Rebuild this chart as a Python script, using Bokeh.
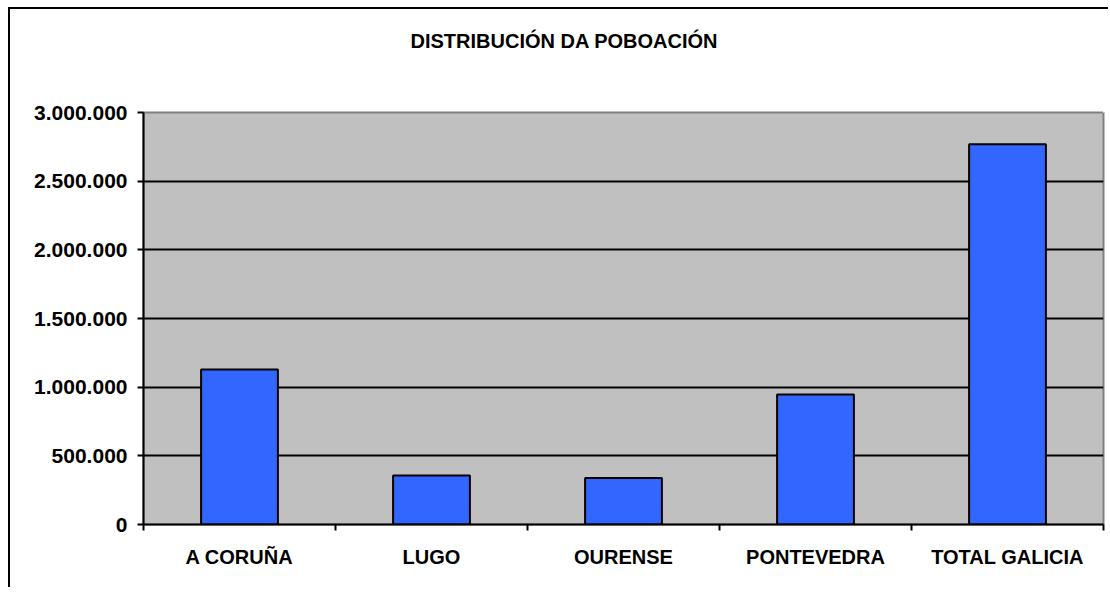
from bokeh.plotting import figure
from bokeh.models import Range1d, FixedTicker, Title, LinearAxis
from bokeh.embed import file_html
from bokeh.resources import INLINE

title_text = "DISTRIBUCIÓN DA POBOACIÓN"
categories = ["A CORUÑA", "LUGO", "OURENSE", "PONTEVEDRA", "TOTAL GALICIA"]
population = [1129000, 357000, 339000, 947000, 2768000]
y_ticks = [0, 500000, 1000000, 1500000, 2000000, 2500000, 3000000]
y_tick_labels = ["0", "500.000", "1.000.000", "1.500.000", "2.000.000", "2.500.000", "3.000.000"]

n = len(categories)
centers = [i + 0.5 for i in range(n)]
bounds = [float(i) for i in range(n + 1)]

FONT = "Liberation Sans"

p = figure(width=1100, height=580,
           x_range=Range1d(0, n), y_range=Range1d(y_ticks[0], y_ticks[-1]),
           output_backend="svg", toolbar_location=None,
           min_border_left=133, min_border_right=7,
           min_border_top=103, min_border_bottom=65,
           background_fill_color="#C0C0C0", border_fill_color="white")
p.styles = {"border-left": "2px solid black", "border-top": "2px solid black",
            "margin-left": "8px", "margin-top": "7px"}

p.outline_line_color = "#808080"
p.outline_line_width = 2

p.vbar(x=centers, top=population, width=0.4, bottom=0,
       fill_color="#3366FF", line_color="black", line_width=2)

# grid
p.xgrid.visible = False
p.ygrid.ticker = FixedTicker(ticks=y_ticks[1:-1])
p.ygrid.grid_line_color = "black"
p.ygrid.grid_line_width = 2

# y axis
ya = p.yaxis[0]
ya.ticker = FixedTicker(ticks=y_ticks)
ya.major_label_overrides = dict(zip(y_ticks, y_tick_labels))
ya.axis_line_color = "black"
ya.axis_line_width = 2
ya.major_tick_line_width = 2
ya.major_tick_out = 6
ya.major_tick_in = 0
ya.minor_tick_line_color = None
ya.major_label_standoff = 10
ya.major_label_text_font = FONT
ya.major_label_text_font_style = "bold"
ya.major_label_text_font_size = "21px"
ya.major_label_text_color = "black"

# x axis
xa = p.xaxis[0]
xa.ticker = FixedTicker(ticks=centers, minor_ticks=bounds)
xa.major_label_overrides = dict(zip(centers, categories))
xa.axis_line_color = "black"
xa.axis_line_width = 2
xa.major_tick_out = 0
xa.major_tick_in = 0
xa.minor_tick_out = 6
xa.minor_tick_in = 0
xa.minor_tick_line_width = 2
xa.minor_tick_line_color = "black"
xa.major_label_standoff = 15
xa.major_label_text_font = FONT
xa.major_label_text_font_style = "bold"
xa.major_label_text_font_size = "20px"
xa.major_label_text_color = "black"

# blank spacer axis directly above the frame (white tick at the right corner),
# then the chart title above it
spacer_tick = [bounds[-1] - 0.001]
spacer = LinearAxis(ticker=FixedTicker(ticks=spacer_tick, minor_ticks=[]),
                    major_tick_out=56, major_tick_in=0,
                    axis_line_color=None, major_tick_line_color="white",
                    major_tick_line_width=1,
                    minor_tick_line_color=None, major_label_standoff=0,
                    major_label_overrides={spacer_tick[0]: ""},
                    major_label_text_font_size="1px")
p.add_layout(spacer, "above")

p.title.text = ""
main_title = Title(text=title_text, align="left", offset=267,
                   text_font=FONT, text_font_style="bold",
                   text_font_size="20px", text_color="black")
p.add_layout(main_title, "above")

open("out.html", "w").write(file_html(p, INLINE))
